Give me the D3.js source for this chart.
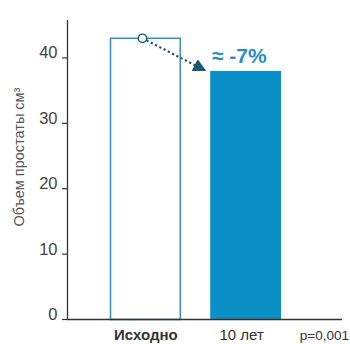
<!DOCTYPE html>
<html>
<head>
<meta charset="utf-8">
<script src="https://cdn.jsdelivr.net/npm/d3@7"></script>
<style>
  html, body { margin: 0; padding: 0; background: #fff; }
  svg { display: block; }
  text { font-family: "Liberation Sans", Arial, sans-serif; }
</style>
</head>
<body>
<svg id="chart" width="350" height="344"></svg>
<script>
// Prostate volume, baseline vs. after 10 years
const categories = ["Исходно", "10 лет"];
const volumes = [43.0, 38.0];
const yTicks = [0, 10, 20, 30, 40];
const changeLabel = "≈ -7%";
const pLabel = "p=0,001";
const yTitle = "Объем простаты см³";

const svg = d3.select("#chart");

const x = d3.scaleBand().domain(categories).range([110.5, 281]).paddingInner(0.29).paddingOuter(0);
const y = d3.scaleLinear().domain([0, 45.8]).range([319.5, 20]);

const axisColor = "#333";

// Y axis line
svg.append("line")
  .attr("x1", 67.5).attr("x2", 67.5)
  .attr("y1", y(45.8)).attr("y2", y(0))
  .attr("stroke", axisColor).attr("stroke-width", 1.3);

// Y ticks and labels (labels sit on the tick)
const tickG = svg.append("g").selectAll("g").data(yTicks).join("g");
tickG.append("line")
  .attr("x1", 62).attr("x2", 67.5)
  .attr("y1", d => y(d)).attr("y2", d => y(d))
  .attr("stroke", axisColor).attr("stroke-width", 1.2);
tickG.append("text")
  .attr("x", 57.5).attr("y", d => y(d) + 0.5)
  .attr("text-anchor", "end")
  .attr("font-size", 16.5)
  .attr("fill", "#444")
  .text(d => d);

// Y axis title
svg.append("text")
  .attr("transform", `translate(23.5,${157}) rotate(-90)`)
  .attr("text-anchor", "middle")
  .attr("font-size", 14.5)
  .attr("fill", "#555")
  .text(yTitle);

// Bars
svg.append("rect")
  .attr("x", x(categories[0])).attr("y", y(volumes[0]))
  .attr("width", x.bandwidth() - 1).attr("height", y(0) - y(volumes[0]))
  .attr("fill", "#fff").attr("stroke", "#3a90b8").attr("stroke-width", 1.6);
svg.append("rect")
  .attr("x", x(categories[1])).attr("y", y(volumes[1]))
  .attr("width", x.bandwidth()).attr("height", y(0) - y(volumes[1]))
  .attr("fill", "#0a8fc6");

// X axis line
svg.append("line")
  .attr("x1", 67).attr("x2", 342)
  .attr("y1", y(0)).attr("y2", y(0))
  .attr("stroke", axisColor).attr("stroke-width", 1.3);

// Category labels
svg.append("text")
  .attr("x", x(categories[0]) + x.bandwidth() / 2).attr("y", 340)
  .attr("text-anchor", "middle").attr("font-size", 15).attr("font-weight", "bold")
  .attr("fill", "#333").text(categories[0]);
svg.append("text")
  .attr("x", x(categories[1]) + x.bandwidth() / 2 - 4).attr("y", 340)
  .attr("text-anchor", "middle").attr("font-size", 15)
  .attr("fill", "#333").text(categories[1]);
svg.append("text")
  .attr("x", 349).attr("y", 340)
  .attr("text-anchor", "end").attr("font-size", 13.5)
  .attr("fill", "#333").text(pLabel);

// Change arrow from baseline bar top to the 10-year bar
const arrowColor = "#1b5876";
svg.append("defs").append("marker")
  .attr("id", "head").attr("viewBox", "0 0 10 10")
  .attr("refX", 9).attr("refY", 5)
  .attr("markerWidth", 6).attr("markerHeight", 6)
  .attr("orient", "auto")
  .append("path").attr("d", "M0,0 L10,5 L0,10 z").attr("fill", arrowColor);

const cx = 142.5, cy = y(volumes[0]);
const tx = x(categories[1]) - 5, ty = y(volumes[1]) - 0.5;
svg.append("line")
  .attr("x1", cx + 4).attr("y1", cy + 2)
  .attr("x2", tx).attr("y2", ty)
  .attr("stroke", arrowColor).attr("stroke-width", 2.2)
  .attr("stroke-dasharray", "2.2,2.6")
  .attr("marker-end", "url(#head)");
svg.append("circle")
  .attr("cx", cx).attr("cy", cy).attr("r", 4.2)
  .attr("fill", "#fff").attr("stroke", arrowColor).attr("stroke-width", 1.4);

// Change label
svg.append("text")
  .attr("x", 212).attr("y", 63)
  .attr("font-size", 21).attr("font-weight", "bold")
  .attr("fill", "#2a8cc6").text(changeLabel);
</script>
</body>
</html>
